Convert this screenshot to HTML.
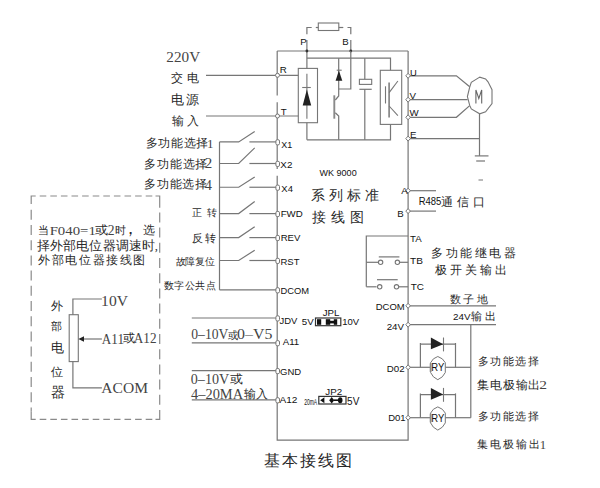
<!DOCTYPE html>
<html><head><meta charset="utf-8"><style>html,body{margin:0;padding:0;background:#fff;width:600px;height:488px;overflow:hidden}svg{display:block}</style></head>
<body><svg width="600" height="488" viewBox="0 0 600 488">
<g fill="none" stroke="#767676" stroke-linecap="butt"><path d="M277.2,51.0 L408.1,51.0" stroke-width="1.2"/>
<path d="M408.1,51.0 L408.1,440.2 L277.2,440.2 L277.2,175.7" stroke-width="1.2"/>
<path d="M277.2,169 L277.2,102.3" stroke-width="1.2"/>
<path d="M277.2,95.6 L277.2,51.0" stroke-width="1.2"/>
<path d="M206,75.3 L298.3,75.3" stroke-width="1.2"/>
<path d="M206,116.0 L298.3,116.0" stroke-width="1.2"/>
<rect x="298.3" y="68.4" width="19.2" height="54.3" fill="none" stroke-width="1.1"/>
<path d="M306.9,73.8 L306.9,118.8" stroke-width="1.1"/>
<path d="M302.2,87.5 L310.8,87.5" stroke-width="1.1"/>
<path d="M306.9,89.4 L311.2,105.6 L302.7,105.6 Z" fill="#222" stroke="none"/>
<path d="M306.9,51.0 L306.9,68.4" stroke-width="1.2"/>
<path d="M306.9,122.7 L306.9,139.8" stroke-width="1.2"/>
<path d="M306.9,50 L306.9,40" stroke-width="1.2"/>
<path d="M306.9,34.2 L306.9,27.5 L311.7,27.5" stroke-width="1.2"/>
<path d="M315.8,27.5 L318.3,27.5" stroke-width="1.2"/>
<rect x="318.3" y="23" width="20.5" height="7.5" fill="none" stroke-width="1.1"/>
<path d="M338.8,27.5 L343.3,27.5" stroke-width="1.2"/>
<path d="M347.5,27.5 L350.8,27.5 L350.8,34.2" stroke-width="1.2"/>
<path d="M350.8,40 L350.8,51.0" stroke-width="1.2"/>
<circle cx="306.9" cy="51" r="1.4" fill="#333" stroke="none"/>
<circle cx="350.8" cy="51" r="1.4" fill="#333" stroke="none"/>
<path d="M306.9,58.2 L390.5,58.2 L390.5,70.3" stroke-width="1.2"/>
<path d="M306.9,139.8 L390.5,139.8 L390.5,124.4" stroke-width="1.2"/>
<path d="M350.8,51.0 L350.8,89 L338.7,89" stroke-width="1.2"/>
<path d="M338.7,58.2 L338.7,96 L335.3,100" stroke-width="1.2"/>
<path d="M335.3,112.7 L338.7,116 L338.7,139.8" stroke-width="1.2"/>
<path d="M334.3,95.3 L334.3,118.7" stroke="#8a8a8a" stroke-width="1.9"/>
<path d="M336.7,70.2 L341.7,70.2" stroke-width="1.1"/>
<path d="M338.9,70.4 L342.3,80.8 L335.6,80.8 Z" fill="#222" stroke="none"/>
<path d="M364.8,58.2 L364.8,79.3" stroke-width="1.2"/>
<rect x="359.4" y="79.3" width="12.3" height="5.1" fill="none" stroke-width="1.1"/>
<path d="M359.4,89.3 L371.7,89.3" stroke-width="1.2"/>
<path d="M364.8,89.3 L364.8,139.8" stroke-width="1.2"/>
<rect x="380.3" y="70.3" width="21.4" height="54.1" fill="none" stroke-width="1.1"/>
<path d="M385.5,86.3 L385.5,103.5" stroke-width="1.1"/>
<path d="M389.1,82.5 L389.1,117.5" stroke-width="1.5"/>
<path d="M389.1,92.7 L397.9,81" stroke-width="1.1"/>
<path d="M389.1,106 L397.9,115.6" stroke-width="1.1"/>
<path d="M408.1,75.8 L456.4,75.8 L469.7,86.8" stroke-width="1.2"/>
<path d="M408.1,99.7 L467.6,99.7" stroke-width="1.2"/>
<path d="M408.1,117.3 L456.4,117.3 L469.7,105.6" stroke-width="1.2"/>
<path d="M479.7,77.1 L471.3,82.3 L469.7,87.2 L467.4,96.6 L469.7,105.4 L471.3,108.9 L479.7,113.8 L485.6,111.8 L492,103.5 L492,89.7 L488,81.8 L485.6,78.9 Z" fill="#fff" stroke-width="1.1"/>
<path d="M475.9,103.5 L475.9,89.9 L478.8,98.5 L481.7,89.9 L481.7,103.5" fill="none" stroke="#666" stroke-width="1.1"/>
<path d="M408.1,138.6 L479.5,138.6" stroke-width="1.2"/>
<path d="M479.5,113.8 L479.5,155.9" stroke-width="1.2"/>
<path d="M474.8,155.9 L488.5,155.9" stroke-width="1.2"/>
<path d="M476.2,161 L485,161" stroke-width="1.2"/>
<path d="M478.5,180 L483,180" stroke-width="1.0"/>
<path d="M408.1,190.7 L436,190.7" stroke-width="1.2"/>
<path d="M408.1,211.1 L436,211.1" stroke-width="1.2"/>
<path d="M408.1,236.0 L366.3,236.0 L366.3,286.8" stroke-width="1.2"/>
<path d="M366.3,262.3 L378.4,262.3" stroke-width="1.2"/>
<path d="M399.4,262.3 L408.1,262.3" stroke-width="1.2"/>
<path d="M378.8,256.9 L399.4,256.9" stroke-width="1.2"/>
<path d="M366.3,286.8 L376.6,286.8" stroke-width="1.2"/>
<path d="M398.6,286.8 L408.1,286.8" stroke-width="1.2"/>
<path d="M377,279.7 L397.7,279.7" stroke-width="1.2"/>
<circle cx="380.6" cy="262.3" r="2.2" fill="#fff" stroke-width="1.1"/>
<circle cx="397.4" cy="262.3" r="2.2" fill="#fff" stroke-width="1.1"/>
<circle cx="379.7" cy="286.8" r="2.2" fill="#fff" stroke-width="1.1"/>
<circle cx="396.5" cy="286.8" r="2.2" fill="#fff" stroke-width="1.1"/>
<path d="M408.1,305.8 L496,305.8" stroke-width="1.2"/>
<path d="M408.1,324.7 L496,324.7" stroke-width="1.2"/>
<path d="M470.8,324.7 L470.8,417.7" stroke-width="1.2"/>
<path d="M408.1,367.3 L430.4,367.3" stroke-width="1.2"/>
<path d="M445.3,367.3 L470.8,367.3" stroke-width="1.2"/>
<path d="M408.1,417.7 L430.4,417.7" stroke-width="1.2"/>
<path d="M445.3,417.7 L470.8,417.7" stroke-width="1.2"/>
<path d="M420.4,367.3 L420.4,343.0" stroke-width="1.2"/>
<path d="M455.5,367.3 L455.5,343.0" stroke-width="1.2"/>
<path d="M420.4,344.2 L455.5,344.2" stroke-width="1.2"/>
<path d="M430.9,337.5 L443.2,344.2 L430.9,349.3 Z" fill="#222" stroke="none"/>
<path d="M443.5,337.5 L443.5,351.4" stroke-width="1.1"/>
<path d="M430.6,362.7 Q432.6,358.1 437.8,356.5 Q443.1,358.1 445.3,362.7 L445.3,372.5 Q443.1,377.5 437.8,379.7 Q432.6,377.5 430.6,372.5 Z" fill="#fff" stroke-width="1"/>
<path d="M430.6,363.3 L430.6,371.90000000000003" stroke="#8a8a8a" stroke-width="1.8"/>
<path d="M420.4,417.7 L420.4,393.4" stroke-width="1.2"/>
<path d="M455.5,417.7 L455.5,393.4" stroke-width="1.2"/>
<path d="M420.4,394.59999999999997 L455.5,394.59999999999997" stroke-width="1.2"/>
<path d="M430.9,387.9 L443.2,394.6 L430.9,399.7 Z" fill="#222" stroke="none"/>
<path d="M443.5,387.9 L443.5,401.79999999999995" stroke-width="1.1"/>
<path d="M430.6,413.1 Q432.6,408.5 437.8,406.9 Q443.1,408.5 445.3,413.1 L445.3,422.9 Q443.1,427.9 437.8,430.1 Q432.6,427.9 430.6,422.9 Z" fill="#fff" stroke-width="1"/>
<path d="M430.6,413.7 L430.6,422.3" stroke="#8a8a8a" stroke-width="1.8"/>
<path d="M191.8,318.0 L277.2,318.0" stroke-width="1.2"/>
<path d="M191.8,342.8 L277.2,342.8" stroke-width="1.2"/>
<path d="M191.8,370.7 L277.2,370.7" stroke-width="1.2"/>
<path d="M191.8,399.9 L277.2,399.9" stroke-width="1.2"/>
<path d="M219.5,141.9 L219.5,289.9" stroke-width="1.2"/>
<path d="M219.5,141.9 L238.7,141.9 L254.7,131.6" stroke-width="1.2"/>
<path d="M249.4,141.9 L277.2,141.9" stroke-width="1.2"/>
<path d="M219.5,163.5 L238.7,163.5 L254.7,147.9" stroke-width="1.2"/>
<path d="M249.4,163.5 L277.2,163.5" stroke-width="1.2"/>
<path d="M219.5,187.25 L238.7,187.25 L254.7,176.95" stroke-width="1.2"/>
<path d="M249.4,187.25 L277.2,187.25" stroke-width="1.2"/>
<path d="M219.5,213.6 L238.7,213.6 L254.7,201.5" stroke-width="1.2"/>
<path d="M249.4,213.6 L277.2,213.6" stroke-width="1.2"/>
<path d="M219.5,237.6 L238.7,237.6 L254.7,226.7" stroke-width="1.2"/>
<path d="M249.4,237.6 L277.2,237.6" stroke-width="1.2"/>
<path d="M219.5,260.5 L238.7,260.5 L254.7,250.2" stroke-width="1.2"/>
<path d="M249.4,260.5 L277.2,260.5" stroke-width="1.2"/>
<path d="M219.5,289.9 L277.2,289.9" stroke-width="1.2"/>
<circle cx="277.5" cy="75.3" r="2" fill="#fff" stroke-width="1"/>
<circle cx="277.5" cy="116.0" r="2" fill="#fff" stroke-width="1"/>
<rect x="275.9" y="139.7" width="3.6" height="5.2" rx="1.4" fill="#fff" stroke-width="1"/>
<rect x="275.9" y="161.3" width="3.6" height="5.2" rx="1.4" fill="#fff" stroke-width="1"/>
<rect x="275.9" y="185.1" width="3.6" height="5.2" rx="1.4" fill="#fff" stroke-width="1"/>
<rect x="275.9" y="211.4" width="3.6" height="5.2" rx="1.4" fill="#fff" stroke-width="1"/>
<rect x="275.9" y="235.4" width="3.6" height="5.2" rx="1.4" fill="#fff" stroke-width="1"/>
<rect x="275.9" y="258.3" width="3.6" height="5.2" rx="1.4" fill="#fff" stroke-width="1"/>
<rect x="275.9" y="287.7" width="3.6" height="5.2" rx="1.4" fill="#fff" stroke-width="1"/>
<rect x="275.9" y="315.8" width="3.6" height="5.2" rx="1.4" fill="#fff" stroke-width="1"/>
<rect x="275.9" y="340.6" width="3.6" height="5.2" rx="1.4" fill="#fff" stroke-width="1"/>
<rect x="275.9" y="368.5" width="3.6" height="5.2" rx="1.4" fill="#fff" stroke-width="1"/>
<rect x="275.9" y="397.7" width="3.6" height="5.2" rx="1.4" fill="#fff" stroke-width="1"/>
<path d="M408.1,73.3 L410.40000000000003,75.8 L408.1,78.3 L405.8,75.8 Z" fill="#fff" stroke-width="1"/>
<path d="M408.1,97.2 L410.40000000000003,99.7 L408.1,102.2 L405.8,99.7 Z" fill="#fff" stroke-width="1"/>
<path d="M408.1,114.8 L410.40000000000003,117.3 L408.1,119.8 L405.8,117.3 Z" fill="#fff" stroke-width="1"/>
<path d="M408.1,136.1 L410.40000000000003,138.6 L408.1,141.1 L405.8,138.6 Z" fill="#fff" stroke-width="1"/>
<path d="M408.1,188.2 L410.40000000000003,190.7 L408.1,193.2 L405.8,190.7 Z" fill="#fff" stroke-width="1"/>
<path d="M408.1,208.6 L410.40000000000003,211.1 L408.1,213.6 L405.8,211.1 Z" fill="#fff" stroke-width="1"/>
<path d="M408.1,303.3 L410.40000000000003,305.8 L408.1,308.3 L405.8,305.8 Z" fill="#fff" stroke-width="1"/>
<path d="M408.1,322.2 L410.40000000000003,324.7 L408.1,327.2 L405.8,324.7 Z" fill="#fff" stroke-width="1"/>
<path d="M408.1,364.8 L410.40000000000003,367.3 L408.1,369.8 L405.8,367.3 Z" fill="#fff" stroke-width="1"/>
<path d="M408.1,415.2 L410.40000000000003,417.7 L408.1,420.2 L405.8,417.7 Z" fill="#fff" stroke-width="1"/>
<g stroke="#8a8a8a">
<path d="M31.2,204 L31.2,196 L35.7,196" stroke-width="1.2"/>
<path d="M39.7,196 L155,196" stroke-width="1.2" stroke-dasharray="6.6 4"/>
<path d="M155.5,196 L159.7,196 L159.7,207.7" stroke-width="1.2"/>
<path d="M159.7,212.4 L159.7,411" stroke-width="1.2" stroke-dasharray="10 5.2"/>
<path d="M159.7,411 L159.7,419.3 L155.5,419.3" stroke-width="1.2"/>
<path d="M31.2,209.8 L31.2,411.3" stroke-width="1.2" stroke-dasharray="10 5.2"/>
<path d="M31.2,411.3 L31.2,419.3 L35.7,419.3" stroke-width="1.2"/>
<path d="M39.7,419.3 L155,419.3" stroke-width="1.2" stroke-dasharray="6.6 4"/>
</g>
<rect x="69.2" y="314.7" width="9.1" height="46.9" fill="none" stroke-width="1.1"/>
<path d="M72.9,314.7 L72.9,299 L101.9,299" stroke-width="1.2"/>
<path d="M72.9,361.6 L72.9,387.8 L101.9,387.8" stroke-width="1.2"/>
<path d="M83,339 L101.9,339" stroke-width="1.2"/>
<path d="M78.4,339 L84,336.2 L84,341.8 Z" fill="#222" stroke="none"/>
<rect x="315.5" y="318" width="25.3" height="7.7" fill="none" stroke="#333" stroke-width="1.2"/>
<rect x="317" y="319.2" width="4.2" height="5.6" fill="#111" stroke="none"/>
<rect x="325.8" y="319.2" width="4.4" height="5.6" fill="#111" stroke="none"/>
<rect x="333.8" y="319.2" width="3.4" height="5.6" fill="#111" stroke="none"/>
<rect x="330" y="320.8" width="4" height="2.6" fill="#111" stroke="none"/>
<rect x="318.8" y="396.4" width="27.2" height="7.6" fill="none" stroke="#333" stroke-width="1.2"/>
<path d="M320.2,400.2 L324.4,397.2 L324.4,403.3 Z" fill="#111" stroke="none"/>
<path d="M329.2,400.2 L331.7,397 L334.2,400.2 L331.7,403.5 Z" fill="#111" stroke="none"/>
<ellipse cx="340.2" cy="400.2" rx="2.3" ry="3" fill="#111" stroke="none"/>
<path d="M333.8,400.2 L338.5,400.2" stroke="#111" stroke-width="1.6"/></g>
<text id="t220v" x="166.35" y="62.30" font-family="'Liberation Serif', serif" font-size="15.03" textLength="33.80" lengthAdjust="spacingAndGlyphs" fill="#444">220V</text>
<text id="jd" x="171.10 186.90" y="82.21" font-family="'Liberation Serif', serif" font-size="12.34" font-weight="300" fill="#2a2a2a">交电</text>
<text id="dy" x="170.60 186.40" y="104.16" font-family="'Liberation Serif', serif" font-size="12.65" font-weight="300" fill="#2a2a2a">电源</text>
<text id="sr" x="171.60 187.40" y="124.66" font-family="'Liberation Serif', serif" font-size="12.10" font-weight="300" fill="#2a2a2a">输入</text>
<text id="R" x="279.85" y="72.60" font-family="'Liberation Sans', sans-serif" font-size="9.71" fill="#111">R</text>
<text id="T" x="280.75" y="114.50" font-family="'Liberation Sans', sans-serif" font-size="9.71" fill="#111">T</text>
<text id="P" x="300.15" y="44.55" font-family="'Liberation Sans', sans-serif" font-size="9.67" fill="#111">P</text>
<text id="Bt" x="342.15" y="44.55" font-family="'Liberation Sans', sans-serif" font-size="9.67" fill="#111">B</text>
<text id="U" x="409.95" y="76.00" font-family="'Liberation Sans', sans-serif" font-size="9.40" fill="#111">U</text>
<text id="V" x="409.55" y="98.70" font-family="'Liberation Sans', sans-serif" font-size="9.72" fill="#111">V</text>
<text id="W" x="409.60" y="116.20" font-family="'Liberation Sans', sans-serif" font-size="9.72" fill="#111">W</text>
<text id="E" x="409.95" y="137.55" font-family="'Liberation Sans', sans-serif" font-size="9.66" fill="#111">E</text>
<text id="A" x="401.20" y="193.70" font-family="'Liberation Sans', sans-serif" font-size="9.71" fill="#111">A</text>
<text id="Bb" x="397.15" y="217.05" font-family="'Liberation Sans', sans-serif" font-size="9.66" fill="#111">B</text>
<text id="r485" x="418.65" y="204.90" font-family="'Liberation Sans', sans-serif" font-size="10.13" textLength="22.75" lengthAdjust="spacingAndGlyphs" fill="#111">R485</text>
<text id="txk" x="441.10 457.17 473.23" y="205.65" font-family="'Liberation Serif', serif" font-size="12.16" font-weight="300" fill="#2a2a2a">通信口</text>
<text id="x1t" x="145.55 158.25 170.95 183.65 196.35" y="147.13" font-family="'Liberation Serif', serif" font-size="11.50" font-weight="300" fill="#2a2a2a">多功能选择</text>
<text id="x1d" x="207.05" y="147.60" font-family="'Liberation Serif', serif" font-size="13.05" fill="#444">1</text>
<text id="x2t" x="144.45 157.17 169.88 182.60 195.32" y="168.26" font-family="'Liberation Serif', serif" font-size="11.71" font-weight="300" fill="#2a2a2a">多功能选择</text>
<text id="x2d" x="204.85" y="168.05" font-family="'Liberation Serif', serif" font-size="14.96" fill="#444">2</text>
<text id="x4t" x="144.45 157.03 169.61 182.18 194.76" y="188.43" font-family="'Liberation Serif', serif" font-size="11.50" font-weight="300" fill="#2a2a2a">多功能选择</text>
<text id="x4d" x="204.70" y="189.70" font-family="'Liberation Serif', serif" font-size="14.32" fill="#444">4</text>
<text id="X1" x="281.25" y="148.20" font-family="'Liberation Sans', sans-serif" font-size="9.71" textLength="10.95" lengthAdjust="spacingAndGlyphs" fill="#111">X1</text>
<text id="X2" x="280.35" y="167.95" font-family="'Liberation Sans', sans-serif" font-size="9.69" textLength="12.05" lengthAdjust="spacingAndGlyphs" fill="#111">X2</text>
<text id="X4" x="281.35" y="192.03" font-family="'Liberation Sans', sans-serif" font-size="9.77" textLength="11.55" lengthAdjust="spacingAndGlyphs" fill="#111">X4</text>
<text id="FWD" x="280.65" y="217.30" font-family="'Liberation Sans', sans-serif" font-size="9.62" textLength="22.05" lengthAdjust="spacingAndGlyphs" fill="#111">FWD</text>
<text id="REV" x="280.65" y="240.95" font-family="'Liberation Sans', sans-serif" font-size="9.61" textLength="19.70" lengthAdjust="spacingAndGlyphs" fill="#111">REV</text>
<text id="RST" x="280.55" y="264.85" font-family="'Liberation Sans', sans-serif" font-size="9.46" textLength="18.90" lengthAdjust="spacingAndGlyphs" fill="#111">RST</text>
<text id="DCOML" x="280.55" y="293.50" font-family="'Liberation Sans', sans-serif" font-size="9.69" textLength="28.60" lengthAdjust="spacingAndGlyphs" fill="#111">DCOM</text>
<text id="zz" x="192.05 206.70" y="216.39" font-family="'Liberation Serif', serif" font-size="9.87" font-weight="300" fill="#2a2a2a">正转</text>
<text id="fz" x="191.80 205.45" y="242.31" font-family="'Liberation Serif', serif" font-size="10.90" font-weight="300" fill="#2a2a2a">反转</text>
<text id="gz" x="175.50 185.45 195.40 205.35" y="264.73" font-family="'Liberation Serif', serif" font-size="9.97" font-weight="300" fill="#2a2a2a">故障复位</text>
<text id="sz" x="163.55 174.14 184.73 195.31 205.90" y="289.43" font-family="'Liberation Serif', serif" font-size="10.34" font-weight="300" fill="#2a2a2a">数字公共点</text>
<text id="l1a" x="37.95" y="233.91" font-family="'Liberation Serif', serif" font-size="11.23" font-weight="300" fill="#2a2a2a">当</text>
<text id="l1b" x="49.65" y="235.10" font-family="'Liberation Serif', serif" font-size="13.34" textLength="46.20" lengthAdjust="spacingAndGlyphs" fill="#444">F040=1</text>
<text id="l1c" x="94.55" y="234.27" font-family="'Liberation Serif', serif" font-size="12.21" font-weight="300" textLength="13.15" lengthAdjust="spacingAndGlyphs" fill="#2a2a2a">或</text>
<text id="l1d" x="107.65" y="235.35" font-family="'Liberation Serif', serif" font-size="13.59" fill="#444">2</text>
<text id="l1e" x="114.65" y="233.94" font-family="'Liberation Serif', serif" font-size="11.30" font-weight="300" fill="#2a2a2a">时</text>
<text id="l1g" x="122.35" y="233.64" font-family="'Liberation Serif', serif" font-size="16.89" font-weight="300" fill="#2a2a2a">，</text>
<text id="l1f" x="143.15" y="234.09" font-family="'Liberation Serif', serif" font-size="11.58" font-weight="300" fill="#2a2a2a">选</text>
<text id="l2" x="37.15 50.23 63.30 76.38 89.46 102.53 115.61 128.69 141.76 154.84" y="249.77" font-family="'Liberation Serif', serif" font-size="12.68" font-weight="300" fill="#2a2a2a">择外部电位器调速时,</text>
<text id="l3" x="38.05 51.68 65.30 78.93 92.56 106.18 119.81 133.44" y="264.18" font-family="'Liberation Serif', serif" font-size="12.03" font-weight="300" fill="#2a2a2a">外部电位器接线图</text>
<text id="v1" x="51.35" y="309.64" font-family="'Liberation Serif', serif" font-size="12.41" font-weight="300" fill="#2a2a2a">外</text>
<text id="v2" x="51.35" y="330.33" font-family="'Liberation Serif', serif" font-size="10.88" font-weight="300" fill="#2a2a2a">部</text>
<text id="v3" x="50.90" y="352.40" font-family="'Liberation Serif', serif" font-size="12.52" font-weight="300" fill="#2a2a2a">电</text>
<text id="v4" x="51.30" y="375.54" font-family="'Liberation Serif', serif" font-size="12.46" font-weight="300" fill="#2a2a2a">位</text>
<text id="v5" x="51.40" y="396.86" font-family="'Liberation Serif', serif" font-size="13.65" font-weight="300" fill="#2a2a2a">器</text>
<text id="p10v" x="101.10" y="305.60" font-family="'Liberation Serif', serif" font-size="13.79" textLength="26.85" lengthAdjust="spacingAndGlyphs" fill="#444">10V</text>
<text id="pa11" x="101.85" y="343.50" font-family="'Liberation Serif', serif" font-size="15.06" textLength="22.10" lengthAdjust="spacingAndGlyphs" fill="#444">A11</text>
<text id="pahuo" x="122.55" y="342.18" font-family="'Liberation Serif', serif" font-size="12.08" font-weight="300" textLength="12.15" lengthAdjust="spacingAndGlyphs" fill="#2a2a2a">或</text>
<text id="pa12" x="133.85" y="343.25" font-family="'Liberation Serif', serif" font-size="14.79" textLength="22.70" lengthAdjust="spacingAndGlyphs" fill="#444">A12</text>
<text id="pacom" x="101.35" y="393.15" font-family="'Liberation Serif', serif" font-size="13.68" textLength="46.65" lengthAdjust="spacingAndGlyphs" fill="#444">ACOM</text>
<text id="wk" x="319.60" y="176.35" font-family="'Liberation Sans', sans-serif" font-size="9.34" textLength="37.05" lengthAdjust="spacingAndGlyphs" fill="#111">WK 9000</text>
<text id="xl" x="310.80 328.72 346.65 364.57" y="200.40" font-family="'Liberation Serif', serif" font-size="14.37" font-weight="300" fill="#2a2a2a">系列标准</text>
<text id="jx" x="312.05 330.99 349.93" y="222.04" font-family="'Liberation Serif', serif" font-size="14.46" font-weight="300" fill="#2a2a2a">接线图</text>
<text id="TA" x="410.05" y="242.40" font-family="'Liberation Sans', sans-serif" font-size="9.62" textLength="11.65" lengthAdjust="spacingAndGlyphs" fill="#111">TA</text>
<text id="TB" x="410.05" y="263.70" font-family="'Liberation Sans', sans-serif" font-size="9.62" textLength="12.85" lengthAdjust="spacingAndGlyphs" fill="#111">TB</text>
<text id="TC" x="410.65" y="290.00" font-family="'Liberation Sans', sans-serif" font-size="9.62" textLength="13.25" lengthAdjust="spacingAndGlyphs" fill="#111">TC</text>
<text id="jdq" x="431.25 445.78 460.30 474.83 489.36 503.88" y="256.65" font-family="'Liberation Serif', serif" font-size="12.30" font-weight="300" fill="#2a2a2a">多功能继电器</text>
<text id="jkg" x="435.20 450.16 465.11 480.07 495.02" y="273.90" font-family="'Liberation Serif', serif" font-size="12.14" font-weight="300" fill="#2a2a2a">极开关输出</text>
<text id="DCOMR" x="375.75" y="310.20" font-family="'Liberation Sans', sans-serif" font-size="9.70" textLength="29.00" lengthAdjust="spacingAndGlyphs" fill="#111">DCOM</text>
<text id="t24v" x="386.70" y="330.05" font-family="'Liberation Sans', sans-serif" font-size="9.61" textLength="17.35" lengthAdjust="spacingAndGlyphs" fill="#111">24V</text>
<text id="szd" x="449.85 463.44 477.03" y="302.58" font-family="'Liberation Serif', serif" font-size="11.10" font-weight="300" fill="#2a2a2a">数子地</text>
<text id="o24" x="453.10" y="320.10" font-family="'Liberation Sans', sans-serif" font-size="9.21" textLength="17.55" lengthAdjust="spacingAndGlyphs" fill="#111">24V</text>
<text id="o24c" x="471.10 484.90" y="319.91" font-family="'Liberation Serif', serif" font-size="11.18" font-weight="300" fill="#2a2a2a">输出</text>
<text id="D02" x="386.75" y="371.95" font-family="'Liberation Sans', sans-serif" font-size="9.65" textLength="17.85" lengthAdjust="spacingAndGlyphs" fill="#111">D02</text>
<text id="D01" x="388.15" y="420.75" font-family="'Liberation Sans', sans-serif" font-size="9.58" textLength="17.45" lengthAdjust="spacingAndGlyphs" fill="#111">D01</text>
<text id="ry1" x="431.35" y="371.35" font-family="'Liberation Sans', sans-serif" font-size="10.35" textLength="13.00" lengthAdjust="spacingAndGlyphs" fill="#111">RY</text>
<text id="ry2" x="431.35" y="421.85" font-family="'Liberation Sans', sans-serif" font-size="10.35" textLength="13.00" lengthAdjust="spacingAndGlyphs" fill="#111">RY</text>
<text id="dx1" x="477.55 490.13 502.70 515.28 527.86" y="365.36" font-family="'Liberation Serif', serif" font-size="11.29" font-weight="300" fill="#2a2a2a">多功能选择</text>
<text id="jd2" x="477.15 489.95 502.76 515.56 528.36" y="389.46" font-family="'Liberation Serif', serif" font-size="11.69" font-weight="300" fill="#2a2a2a">集电极输出</text>
<text id="jd2d" x="539.25" y="389.30" font-family="'Liberation Serif', serif" font-size="13.37" textLength="7.75" lengthAdjust="spacingAndGlyphs" fill="#444">2</text>
<text id="dx2" x="477.55 490.19 502.83 515.47 528.11" y="419.58" font-family="'Liberation Serif', serif" font-size="11.10" font-weight="300" fill="#2a2a2a">多功能选择</text>
<text id="jd1" x="477.15 490.14 503.13 516.12 529.11" y="447.61" font-family="'Liberation Serif', serif" font-size="11.11" font-weight="300" fill="#2a2a2a">集电极输出</text>
<text id="jd1d" x="539.80" y="448.70" font-family="'Liberation Serif', serif" font-size="12.81" fill="#444">1</text>
<text id="JDV" x="279.55" y="324.00" font-family="'Liberation Sans', sans-serif" font-size="9.70" textLength="17.85" lengthAdjust="spacingAndGlyphs" fill="#111">JDV</text>
<text id="A11" x="282.70" y="345.30" font-family="'Liberation Sans', sans-serif" font-size="9.67" textLength="16.50" lengthAdjust="spacingAndGlyphs" fill="#111">A11</text>
<text id="GND" x="280.10" y="374.90" font-family="'Liberation Sans', sans-serif" font-size="9.64" textLength="21.10" lengthAdjust="spacingAndGlyphs" fill="#111">GND</text>
<text id="A12" x="279.40" y="402.90" font-family="'Liberation Sans', sans-serif" font-size="9.59" textLength="18.00" lengthAdjust="spacingAndGlyphs" fill="#111">A12</text>
<text id="a1a" x="191.30" y="339.30" font-family="'Liberation Serif', serif" font-size="13.79" textLength="37.05" lengthAdjust="spacingAndGlyphs" fill="#444">0–10V</text>
<text id="a1b" x="227.55" y="338.82" font-family="'Liberation Serif', serif" font-size="11.45" font-weight="300" textLength="10.15" lengthAdjust="spacingAndGlyphs" fill="#2a2a2a">或</text>
<text id="a1c" x="237.05" y="339.30" font-family="'Liberation Serif', serif" font-size="13.79" textLength="35.30" lengthAdjust="spacingAndGlyphs" fill="#444">0–V5</text>
<text id="a2a" x="190.80" y="384.15" font-family="'Liberation Serif', serif" font-size="13.92" textLength="38.35" lengthAdjust="spacingAndGlyphs" fill="#444">0–10V</text>
<text id="a2b" x="229.55" y="382.92" font-family="'Liberation Serif', serif" font-size="11.84" font-weight="300" textLength="12.90" lengthAdjust="spacingAndGlyphs" fill="#2a2a2a">或</text>
<text id="a3a" x="191.05" y="398.85" font-family="'Liberation Serif', serif" font-size="14.78" textLength="52.05" lengthAdjust="spacingAndGlyphs" fill="#444">4–20MA</text>
<text id="a3b" x="243.80 256.25" y="397.58" font-family="'Liberation Serif', serif" font-size="11.99" font-weight="300" fill="#2a2a2a">输入</text>
<text id="JPL" x="322.65" y="315.85" font-family="'Liberation Sans', sans-serif" font-size="9.08" textLength="16.70" lengthAdjust="spacingAndGlyphs" fill="#111">JPL</text>
<text id="j5v" x="301.80" y="325.15" font-family="'Liberation Sans', sans-serif" font-size="8.39" textLength="11.90" lengthAdjust="spacingAndGlyphs" fill="#111">5V</text>
<text id="j10v" x="342.15" y="325.15" font-family="'Liberation Sans', sans-serif" font-size="8.39" textLength="16.95" lengthAdjust="spacingAndGlyphs" fill="#111">10V</text>
<text id="JP2" x="325.35" y="395.05" font-family="'Liberation Sans', sans-serif" font-size="9.79" textLength="16.85" lengthAdjust="spacingAndGlyphs" fill="#111">JP2</text>
<text id="j20" x="304.15" y="405.40" font-family="'Liberation Sans', sans-serif" font-size="9.24" textLength="13.05" lengthAdjust="spacingAndGlyphs" fill="#111">20mA</text>
<text id="j5v2" x="347.10" y="405.05" font-family="'Liberation Sans', sans-serif" font-size="10.10" textLength="12.25" lengthAdjust="spacingAndGlyphs" fill="#111">5V</text>
<text id="title" x="264.10 282.11 300.12 318.14 336.15" y="465.78" font-family="'Liberation Serif', serif" font-size="15.73" font-weight="300" fill="#2a2a2a">基本接线图</text>
</svg></body></html>
